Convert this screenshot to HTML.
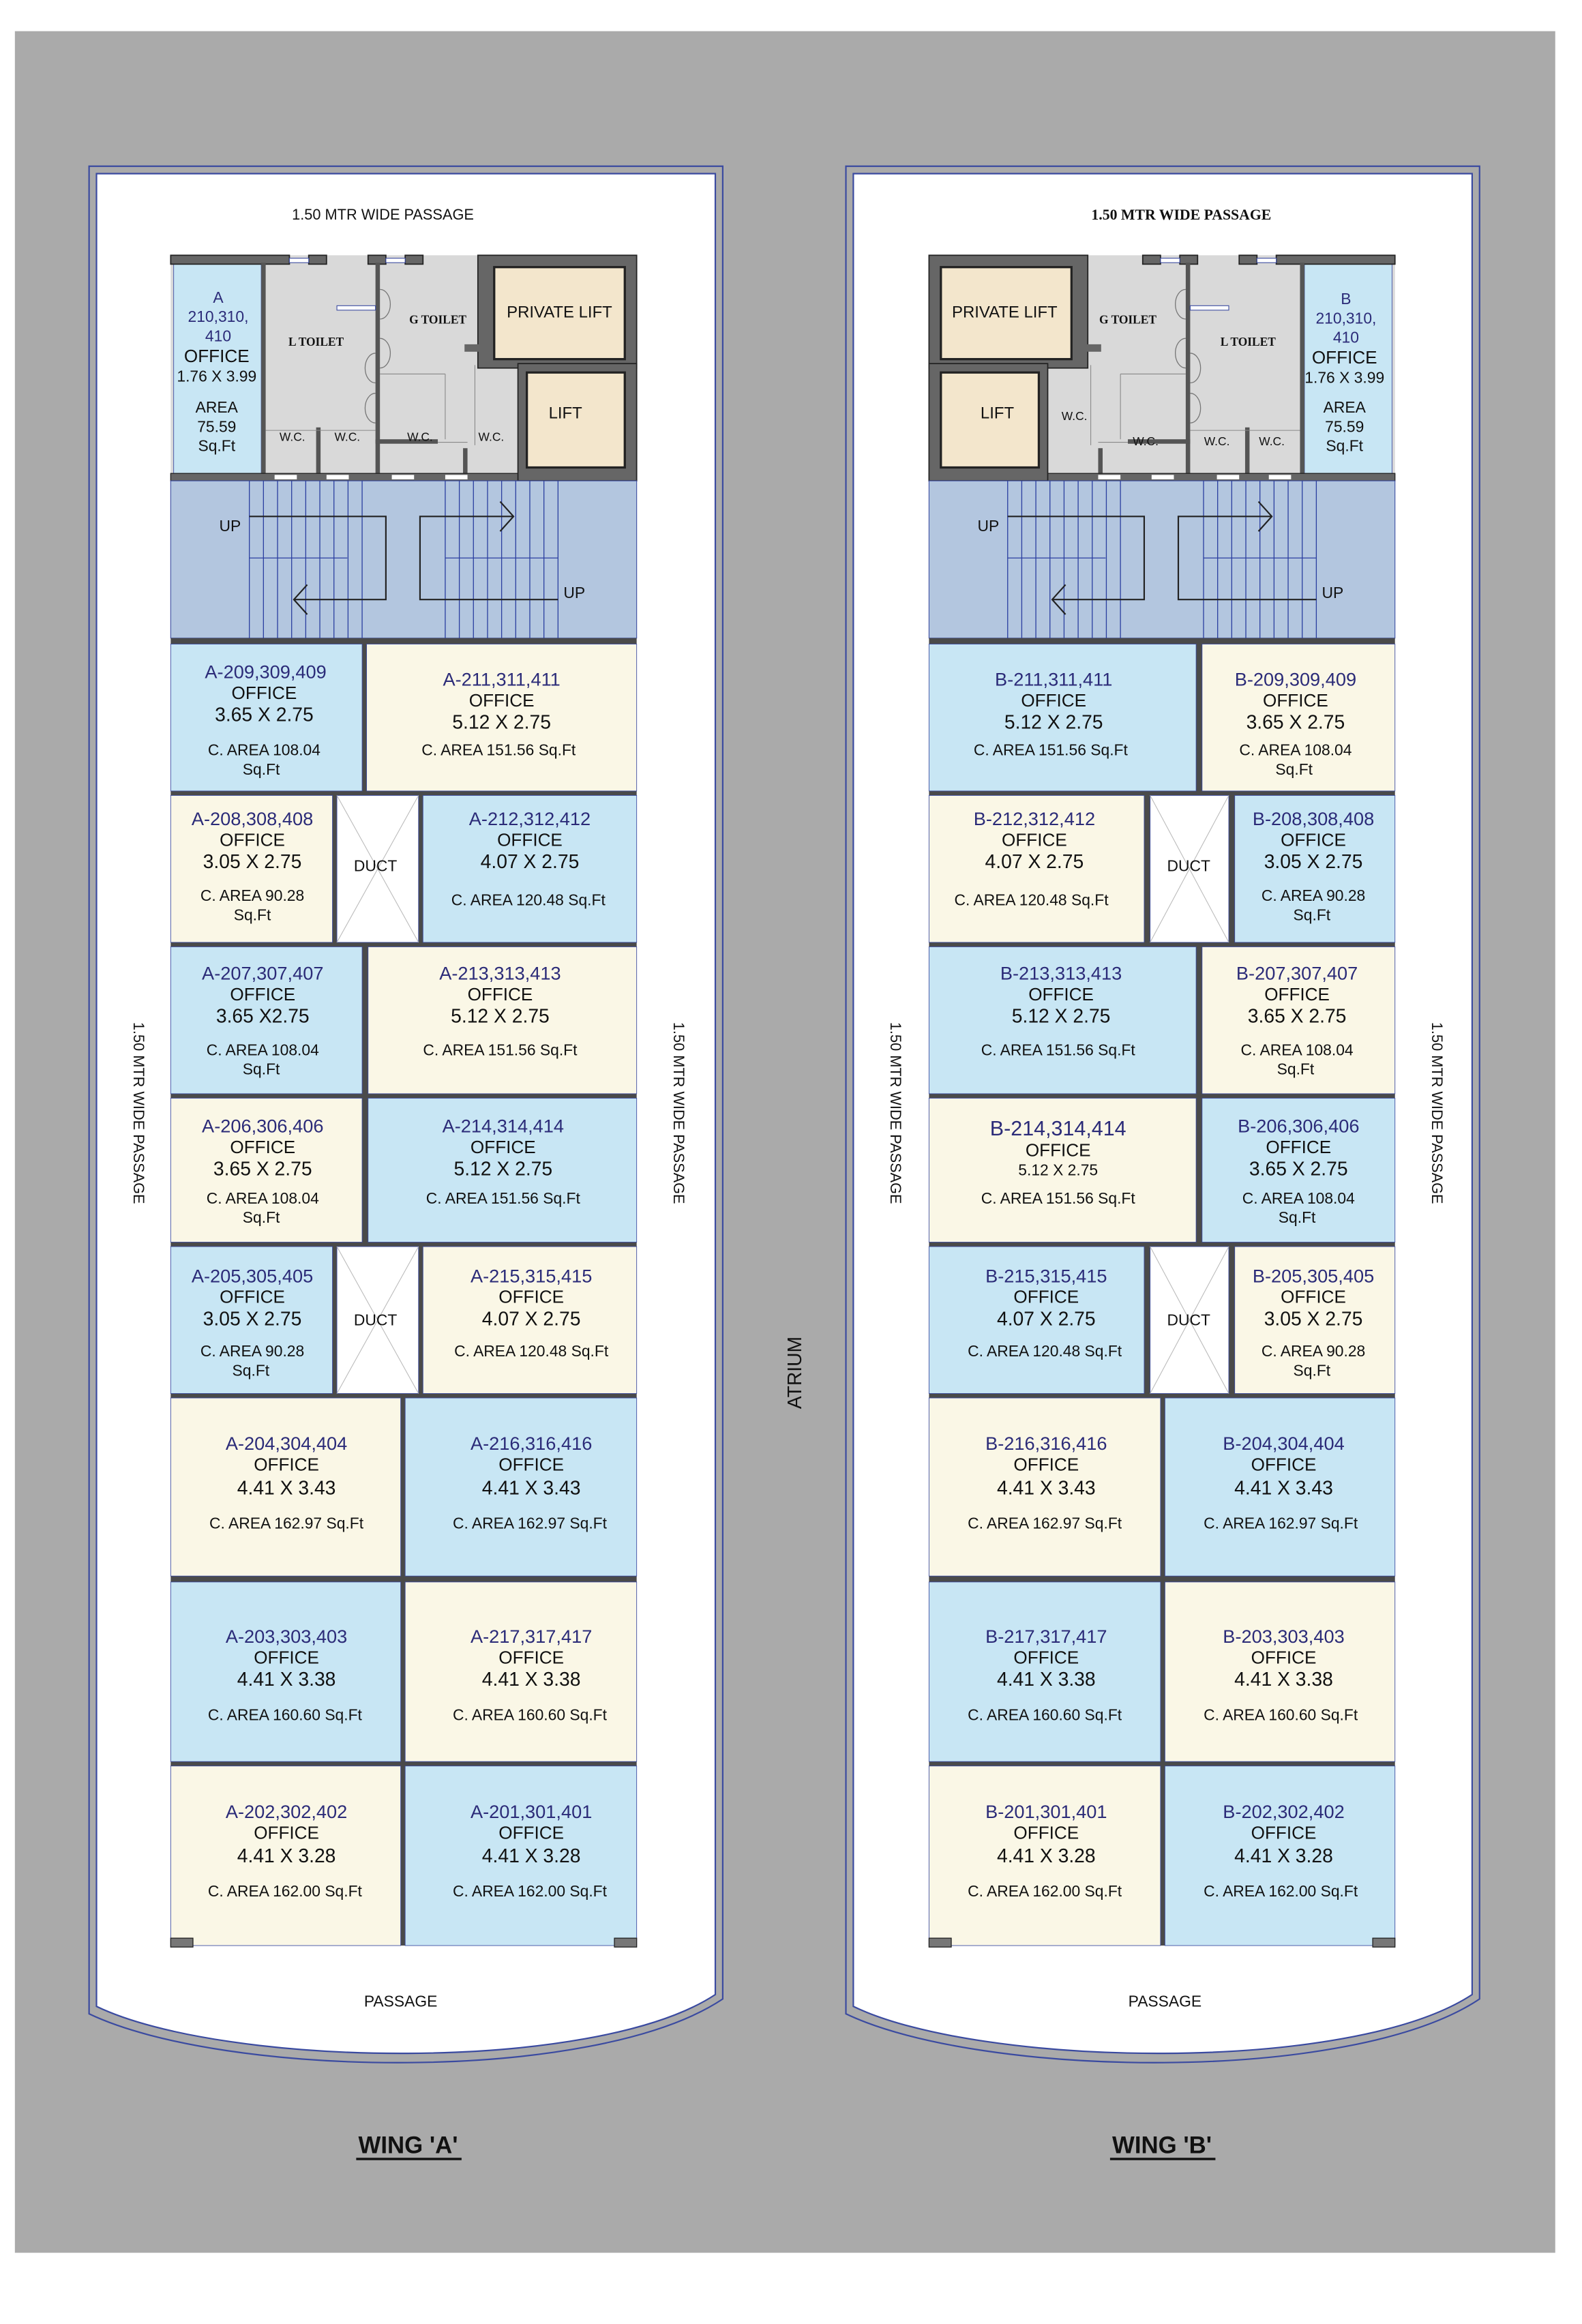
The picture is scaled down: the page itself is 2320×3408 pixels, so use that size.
<!DOCTYPE html>
<html><head><meta charset="utf-8"><style>
html,body{margin:0;padding:0;background:#fff;}
svg{display:block;}
text{font-family:"Liberation Sans",Arial,sans-serif;text-anchor:middle;}
.c{fill:#2b2b78;font-size:12.5px;}
.o{fill:#111;font-size:12px;}
.d{fill:#111;font-size:13px;}
.a{fill:#111;font-size:10.5px;}
.s{font-family:"Liberation Serif",serif;font-weight:bold;font-size:8px;fill:#111;}
</style></head><body>
<svg width="2320" height="3408" viewBox="0 0 1066 1566" xmlns="http://www.w3.org/2000/svg">
<rect x="0" y="0" width="1066" height="1566" fill="#fff"/>
<rect x="10" y="21" width="1038" height="1497" fill="#aaaaaa"/>

<g>
<path d="M60,112 H487 V1347 C400,1405 150,1400 60,1357 Z" fill="none" stroke="#3a4aa0" stroke-width="1"/>
<path d="M65,117 H482 V1344 C400,1398 150,1393 65,1352 Z" fill="#fff" stroke="#3a4aa0" stroke-width="1"/>
</g>
<g transform="translate(510,0)">
<path d="M60,112 H487 V1347 C400,1405 150,1400 60,1357 Z" fill="none" stroke="#3a4aa0" stroke-width="1"/>
<path d="M65,117 H482 V1344 C400,1398 150,1393 65,1352 Z" fill="#fff" stroke="#3a4aa0" stroke-width="1"/>
</g>

<text x="258" y="148" style="font-size:10px" fill="#111">1.50 MTR WIDE PASSAGE</text>
<text x="796" y="148" style="font-family:'Liberation Serif',serif;font-weight:bold;font-size:10px" fill="#111">1.50 MTR WIDE PASSAGE</text>
<text transform="translate(90,750) rotate(90)" style="font-size:10px" fill="#111">1.50 MTR WIDE PASSAGE</text>
<text transform="translate(454,750) rotate(90)" style="font-size:10px" fill="#111">1.50 MTR WIDE PASSAGE</text>
<text transform="translate(600,750) rotate(90)" style="font-size:10px" fill="#111">1.50 MTR WIDE PASSAGE</text>
<text transform="translate(965,750) rotate(90)" style="font-size:10px" fill="#111">1.50 MTR WIDE PASSAGE</text>
<text transform="translate(540,925) rotate(-90)" style="font-size:13px" fill="#111">ATRIUM</text>
<text x="270" y="1352" style="font-size:10.5px" fill="#111">PASSAGE</text>
<text x="785" y="1352" style="font-size:10.5px" fill="#111">PASSAGE</text>
<text x="275" y="1451" style="font-size:16px;font-weight:bold" fill="#111">WING 'A'</text>
<rect x="240" y="1454" width="71" height="1.6" fill="#111"/>
<text x="783" y="1451" style="font-size:16px;font-weight:bold" fill="#111">WING 'B'</text>
<rect x="748" y="1454" width="71" height="1.6" fill="#111"/>

<g id="coreA">
<rect x="115" y="172" width="236" height="152" fill="#d9d9d9"/>
<rect x="117" y="177" width="59" height="143" fill="#c8e6f4" stroke="#3a4aa0" stroke-width="0.4"/>
<rect x="115" y="172" width="80" height="6" fill="#666" stroke="#222" stroke-width="0.8"/>
<rect x="208" y="172" width="12" height="6" fill="#666" stroke="#222" stroke-width="0.8"/>
<rect x="248" y="172" width="12" height="6" fill="#666" stroke="#222" stroke-width="0.8"/>
<rect x="273" y="172" width="12" height="6" fill="#666" stroke="#222" stroke-width="0.8"/>
<rect x="195" y="174" width="13" height="3" fill="#fff" stroke="#3a4aa0" stroke-width="0.5"/>
<rect x="260" y="174" width="13" height="3" fill="#fff" stroke="#3a4aa0" stroke-width="0.5"/>
<rect x="176" y="177" width="3" height="145" fill="#555"/>
<rect x="253" y="177" width="3" height="145" fill="#555"/>
<rect x="213" y="288" width="3" height="34" fill="#555"/>
<rect x="253" y="296" width="42" height="3" fill="#555"/>
<rect x="312" y="302" width="3" height="20" fill="#555"/>
<line x1="179" y1="290" x2="253" y2="290" stroke="#888" stroke-width="0.5"/>
<line x1="256" y1="252" x2="300" y2="252" stroke="#888" stroke-width="0.5"/>
<line x1="300" y1="252" x2="300" y2="296" stroke="#888" stroke-width="0.5"/>
<line x1="295" y1="298" x2="315" y2="298" stroke="#888" stroke-width="0.5"/>
<line x1="320" y1="246" x2="320" y2="300" stroke="#888" stroke-width="0.5"/>
<path d="M256,195 a7,10 0 0 1 0,20 M256,228 a7,10 0 0 1 0,20 M253,238 a7,10 0 0 0 0,20 M253,265 a7,10 0 0 0 0,20" fill="none" stroke="#777" stroke-width="0.6"/>
<rect x="227" y="206" width="26" height="3" fill="#fff" stroke="#3a4aa0" stroke-width="0.5"/>
<rect x="115" y="319" width="314" height="5" fill="#666" stroke="#222" stroke-width="0.6"/>
<rect x="185" y="320" width="15" height="3" fill="#fff"/><rect x="220" y="320" width="15" height="3" fill="#fff"/>
<rect x="264" y="320" width="15" height="3" fill="#fff"/><rect x="300" y="320" width="15" height="3" fill="#fff"/>
<rect x="322" y="172" width="107" height="76" fill="#666" stroke="#222" stroke-width="0.8"/>
<rect x="349" y="245" width="80" height="79" fill="#666" stroke="#222" stroke-width="0.8"/>
<rect x="333" y="180" width="88" height="62" fill="#f3e6cc" stroke="#222" stroke-width="1.5"/>
<rect x="355" y="251" width="66" height="64" fill="#f3e6cc" stroke="#222" stroke-width="1.5"/>
<rect x="313" y="232" width="14" height="5" fill="#666"/>
</g>
<use href="#coreA" transform="translate(1055,0) scale(-1,1)"/>

<g>
<text x="147" y="204" class="c" style="font-size:10.5px">A</text>
<text x="147" y="217" class="c" style="font-size:10.5px">210,310,</text>
<text x="147" y="230" class="c" style="font-size:10.5px">410</text>
<text x="146" y="244" class="o">OFFICE</text>
<text x="146" y="257" class="a">1.76 X 3.99</text>
<text x="146" y="278" class="a">AREA</text>
<text x="146" y="291" class="a">75.59</text>
<text x="146" y="304" class="a">Sq.Ft</text>
<text x="213" y="233" class="s">L TOILET</text>
<text x="295" y="218" class="s">G TOILET</text>
<text x="197" y="297" style="font-size:8px" fill="#111">W.C.</text>
<text x="234" y="297" style="font-size:8px" fill="#111">W.C.</text>
<text x="283" y="297" style="font-size:8px" fill="#111">W.C.</text>
<text x="331" y="297" style="font-size:8px" fill="#111">W.C.</text>
<text x="377" y="214" style="font-size:11px" fill="#111">PRIVATE LIFT</text>
<text x="381" y="282" style="font-size:11px" fill="#111">LIFT</text>

<text x="907" y="205" class="c" style="font-size:10.5px">B</text>
<text x="907" y="218" class="c" style="font-size:10.5px">210,310,</text>
<text x="907" y="231" class="c" style="font-size:10.5px">410</text>
<text x="906" y="245" class="o">OFFICE</text>
<text x="906" y="258" class="a">1.76 X 3.99</text>
<text x="906" y="278" class="a">AREA</text>
<text x="906" y="291" class="a">75.59</text>
<text x="906" y="304" class="a">Sq.Ft</text>
<text x="841" y="233" class="s">L TOILET</text>
<text x="760" y="218" class="s">G TOILET</text>
<text x="724" y="283" style="font-size:8px" fill="#111">W.C.</text>
<text x="772" y="300" style="font-size:8px" fill="#111">W.C.</text>
<text x="820" y="300" style="font-size:8px" fill="#111">W.C.</text>
<text x="857" y="300" style="font-size:8px" fill="#111">W.C.</text>
<text x="677" y="214" style="font-size:11px" fill="#111">PRIVATE LIFT</text>
<text x="672" y="282" style="font-size:11px" fill="#111">LIFT</text>
</g>

<g id="stA">
<rect x="115" y="324" width="314" height="106" fill="#b3c6df" stroke="#3a4aa0" stroke-width="0.5"/>
<g stroke="#2b3fa0" stroke-width="0.6">
<line x1="168" y1="324" x2="168" y2="430"/><line x1="177.5" y1="324" x2="177.5" y2="430"/><line x1="187" y1="324" x2="187" y2="430"/><line x1="196.5" y1="324" x2="196.5" y2="430"/><line x1="206" y1="324" x2="206" y2="430"/><line x1="215.5" y1="324" x2="215.5" y2="430"/><line x1="225" y1="324" x2="225" y2="430"/><line x1="234.5" y1="324" x2="234.5" y2="430"/><line x1="244" y1="324" x2="244" y2="430"/>
<line x1="300" y1="324" x2="300" y2="430"/><line x1="309.5" y1="324" x2="309.5" y2="430"/><line x1="319" y1="324" x2="319" y2="430"/><line x1="328.5" y1="324" x2="328.5" y2="430"/><line x1="338" y1="324" x2="338" y2="430"/><line x1="347.5" y1="324" x2="347.5" y2="430"/><line x1="357" y1="324" x2="357" y2="430"/><line x1="366.5" y1="324" x2="366.5" y2="430"/><line x1="376" y1="324" x2="376" y2="430"/>
<line x1="168" y1="376" x2="234" y2="376"/><line x1="300" y1="376" x2="376" y2="376"/>
</g>
<path d="M168,348 H260 V404 H198 M207,394 L198,404 L207,414" fill="none" stroke="#222" stroke-width="1"/>
<path d="M376,404 H283 V348 H346 M337,338 L346,348 L337,358" fill="none" stroke="#222" stroke-width="1"/>
<text x="155" y="358" style="font-size:10.5px" fill="#111">UP</text>
<text x="387" y="403" style="font-size:10.5px" fill="#111">UP</text>
</g>
<use href="#stA" transform="translate(511,0)"/>

<rect x="115" y="430" width="314" height="883" fill="#4a4a4a"/>
<rect x="115" y="1311" width="314" height="4" fill="#fff"/>
<g stroke="#3a4aa0" stroke-width="0.4">
<rect x="115" y="434" width="129" height="99" fill="#c8e6f4"/>
<rect x="247" y="434" width="182" height="99" fill="#faf7e6"/>
<rect x="115" y="536" width="109" height="99" fill="#faf7e6"/>
<rect x="227" y="536" width="55" height="99" fill="#fff"/>
<rect x="285" y="536" width="144" height="99" fill="#c8e6f4"/>
<rect x="115" y="638" width="129" height="99" fill="#c8e6f4"/>
<rect x="248" y="638" width="181" height="99" fill="#faf7e6"/>
<rect x="115" y="740" width="129" height="97" fill="#faf7e6"/>
<rect x="248" y="740" width="181" height="97" fill="#c8e6f4"/>
<rect x="115" y="840" width="109" height="99" fill="#c8e6f4"/>
<rect x="227" y="840" width="55" height="99" fill="#fff"/>
<rect x="285" y="840" width="144" height="99" fill="#faf7e6"/>
<rect x="115" y="942" width="155" height="120" fill="#faf7e6"/>
<rect x="273" y="942" width="156" height="120" fill="#c8e6f4"/>
<rect x="115" y="1066" width="155" height="121" fill="#c8e6f4"/>
<rect x="273" y="1066" width="156" height="121" fill="#faf7e6"/>
<rect x="115" y="1190" width="155" height="121" fill="#faf7e6"/>
<rect x="273" y="1190" width="156" height="121" fill="#c8e6f4"/>
</g>
<rect x="115" y="1306" width="15" height="6" fill="#777" stroke="#222" stroke-width="0.6"/>
<rect x="414" y="1306" width="15" height="6" fill="#777" stroke="#222" stroke-width="0.6"/>
<g stroke="#bbb" stroke-width="0.5"><line x1="227" y1="536" x2="282" y2="635"/><line x1="282" y1="536" x2="227" y2="635"/><line x1="227" y1="840" x2="282" y2="939"/><line x1="282" y1="840" x2="227" y2="939"/></g>

<rect x="626" y="430" width="314" height="883" fill="#4a4a4a"/>
<rect x="626" y="1311" width="314" height="4" fill="#fff"/>
<g stroke="#3a4aa0" stroke-width="0.4">
<rect x="626" y="434" width="180" height="99" fill="#c8e6f4"/>
<rect x="810" y="434" width="130" height="99" fill="#faf7e6"/>
<rect x="626" y="536" width="145" height="99" fill="#faf7e6"/>
<rect x="775" y="536" width="53" height="99" fill="#fff"/>
<rect x="832" y="536" width="108" height="99" fill="#c8e6f4"/>
<rect x="626" y="638" width="180" height="99" fill="#c8e6f4"/>
<rect x="810" y="638" width="130" height="99" fill="#faf7e6"/>
<rect x="626" y="740" width="180" height="97" fill="#faf7e6"/>
<rect x="810" y="740" width="130" height="97" fill="#c8e6f4"/>
<rect x="626" y="840" width="145" height="99" fill="#c8e6f4"/>
<rect x="775" y="840" width="53" height="99" fill="#fff"/>
<rect x="832" y="840" width="108" height="99" fill="#faf7e6"/>
<rect x="626" y="942" width="156" height="120" fill="#faf7e6"/>
<rect x="785" y="942" width="155" height="120" fill="#c8e6f4"/>
<rect x="626" y="1066" width="156" height="121" fill="#c8e6f4"/>
<rect x="785" y="1066" width="155" height="121" fill="#faf7e6"/>
<rect x="626" y="1190" width="156" height="121" fill="#faf7e6"/>
<rect x="785" y="1190" width="155" height="121" fill="#c8e6f4"/>
</g>
<rect x="626" y="1306" width="15" height="6" fill="#777" stroke="#222" stroke-width="0.6"/>
<rect x="925" y="1306" width="15" height="6" fill="#777" stroke="#222" stroke-width="0.6"/>
<g stroke="#bbb" stroke-width="0.5"><line x1="775" y1="536" x2="828" y2="635"/><line x1="828" y1="536" x2="775" y2="635"/><line x1="775" y1="840" x2="828" y2="939"/><line x1="828" y1="840" x2="775" y2="939"/></g>

<g>
<text x="179" y="457" class="c">A-209,309,409</text><text x="178" y="471" class="o">OFFICE</text><text x="178" y="486" class="d">3.65 X 2.75</text><text x="178" y="509" class="a">C. AREA 108.04</text><text x="176" y="522" class="a">Sq.Ft</text>
<text x="338" y="462" class="c">A-211,311,411</text><text x="338" y="476" class="o">OFFICE</text><text x="338" y="491" class="d">5.12 X 2.75</text><text x="336" y="509" class="a">C. AREA 151.56 Sq.Ft</text>
<text x="170" y="556" class="c">A-208,308,408</text><text x="170" y="570" class="o">OFFICE</text><text x="170" y="585" class="d">3.05 X 2.75</text><text x="170" y="607" class="a">C. AREA 90.28</text><text x="170" y="620" class="a">Sq.Ft</text>
<text x="253" y="587" class="a">DUCT</text>
<text x="357" y="556" class="c">A-212,312,412</text><text x="357" y="570" class="o">OFFICE</text><text x="357" y="585" class="d">4.07 X 2.75</text><text x="356" y="610" class="a">C. AREA 120.48 Sq.Ft</text>
<text x="177" y="660" class="c">A-207,307,407</text><text x="177" y="674" class="o">OFFICE</text><text x="177" y="689" class="d">3.65 X2.75</text><text x="177" y="711" class="a">C. AREA 108.04</text><text x="176" y="724" class="a">Sq.Ft</text>
<text x="337" y="660" class="c">A-213,313,413</text><text x="337" y="674" class="o">OFFICE</text><text x="337" y="689" class="d">5.12 X 2.75</text><text x="337" y="711" class="a">C. AREA 151.56 Sq.Ft</text>
<text x="177" y="763" class="c">A-206,306,406</text><text x="177" y="777" class="o">OFFICE</text><text x="177" y="792" class="d">3.65 X 2.75</text><text x="177" y="811" class="a">C. AREA 108.04</text><text x="176" y="824" class="a">Sq.Ft</text>
<text x="339" y="763" class="c">A-214,314,414</text><text x="339" y="777" class="o">OFFICE</text><text x="339" y="792" class="d">5.12 X 2.75</text><text x="339" y="811" class="a">C. AREA 151.56 Sq.Ft</text>
<text x="170" y="864" class="c">A-205,305,405</text><text x="170" y="878" class="o">OFFICE</text><text x="170" y="893" class="d">3.05 X 2.75</text><text x="170" y="914" class="a">C. AREA 90.28</text><text x="169" y="927" class="a">Sq.Ft</text>
<text x="253" y="893" class="a">DUCT</text>
<text x="358" y="864" class="c">A-215,315,415</text><text x="358" y="878" class="o">OFFICE</text><text x="358" y="893" class="d">4.07 X 2.75</text><text x="358" y="914" class="a">C. AREA 120.48 Sq.Ft</text>
<text x="193" y="977" class="c">A-204,304,404</text><text x="193" y="991" class="o">OFFICE</text><text x="193" y="1007" class="d">4.41 X 3.43</text><text x="193" y="1030" class="a">C. AREA 162.97 Sq.Ft</text>
<text x="358" y="977" class="c">A-216,316,416</text><text x="358" y="991" class="o">OFFICE</text><text x="358" y="1007" class="d">4.41 X 3.43</text><text x="357" y="1030" class="a">C. AREA 162.97 Sq.Ft</text>
<text x="193" y="1107" class="c">A-203,303,403</text><text x="193" y="1121" class="o">OFFICE</text><text x="193" y="1136" class="d">4.41 X 3.38</text><text x="192" y="1159" class="a">C. AREA 160.60 Sq.Ft</text>
<text x="358" y="1107" class="c">A-217,317,417</text><text x="358" y="1121" class="o">OFFICE</text><text x="358" y="1136" class="d">4.41 X 3.38</text><text x="357" y="1159" class="a">C. AREA 160.60 Sq.Ft</text>
<text x="193" y="1225" class="c">A-202,302,402</text><text x="193" y="1239" class="o">OFFICE</text><text x="193" y="1255" class="d">4.41 X 3.28</text><text x="192" y="1278" class="a">C. AREA 162.00 Sq.Ft</text>
<text x="358" y="1225" class="c">A-201,301,401</text><text x="358" y="1239" class="o">OFFICE</text><text x="358" y="1255" class="d">4.41 X 3.28</text><text x="357" y="1278" class="a">C. AREA 162.00 Sq.Ft</text>
</g>

<g>
<text x="710" y="462" class="c">B-211,311,411</text><text x="710" y="476" class="o">OFFICE</text><text x="710" y="491" class="d">5.12 X 2.75</text><text x="708" y="509" class="a">C. AREA 151.56 Sq.Ft</text>
<text x="873" y="462" class="c">B-209,309,409</text><text x="873" y="476" class="o">OFFICE</text><text x="873" y="491" class="d">3.65 X 2.75</text><text x="873" y="509" class="a">C. AREA 108.04</text><text x="872" y="522" class="a">Sq.Ft</text>
<text x="697" y="556" class="c">B-212,312,412</text><text x="697" y="570" class="o">OFFICE</text><text x="697" y="585" class="d">4.07 X 2.75</text><text x="695" y="610" class="a">C. AREA 120.48 Sq.Ft</text>
<text x="801" y="587" class="a">DUCT</text>
<text x="885" y="556" class="c">B-208,308,408</text><text x="885" y="570" class="o">OFFICE</text><text x="885" y="585" class="d">3.05 X 2.75</text><text x="885" y="607" class="a">C. AREA 90.28</text><text x="884" y="620" class="a">Sq.Ft</text>
<text x="715" y="660" class="c">B-213,313,413</text><text x="715" y="674" class="o">OFFICE</text><text x="715" y="689" class="d">5.12 X 2.75</text><text x="713" y="711" class="a">C. AREA 151.56 Sq.Ft</text>
<text x="874" y="660" class="c">B-207,307,407</text><text x="874" y="674" class="o">OFFICE</text><text x="874" y="689" class="d">3.65 X 2.75</text><text x="874" y="711" class="a">C. AREA 108.04</text><text x="873" y="724" class="a">Sq.Ft</text>
<text x="713" y="765" class="c" style="font-size:14px">B-214,314,414</text><text x="713" y="779" class="o">OFFICE</text><text x="713" y="792" class="a">5.12 X 2.75</text><text x="713" y="811" class="a">C. AREA 151.56 Sq.Ft</text>
<text x="875" y="763" class="c">B-206,306,406</text><text x="875" y="777" class="o">OFFICE</text><text x="875" y="792" class="d">3.65 X 2.75</text><text x="875" y="811" class="a">C. AREA 108.04</text><text x="874" y="824" class="a">Sq.Ft</text>
<text x="705" y="864" class="c">B-215,315,415</text><text x="705" y="878" class="o">OFFICE</text><text x="705" y="893" class="d">4.07 X 2.75</text><text x="704" y="914" class="a">C. AREA 120.48 Sq.Ft</text>
<text x="801" y="893" class="a">DUCT</text>
<text x="885" y="864" class="c">B-205,305,405</text><text x="885" y="878" class="o">OFFICE</text><text x="885" y="893" class="d">3.05 X 2.75</text><text x="885" y="914" class="a">C. AREA 90.28</text><text x="884" y="927" class="a">Sq.Ft</text>
<text x="705" y="977" class="c">B-216,316,416</text><text x="705" y="991" class="o">OFFICE</text><text x="705" y="1007" class="d">4.41 X 3.43</text><text x="704" y="1030" class="a">C. AREA 162.97 Sq.Ft</text>
<text x="865" y="977" class="c">B-204,304,404</text><text x="865" y="991" class="o">OFFICE</text><text x="865" y="1007" class="d">4.41 X 3.43</text><text x="863" y="1030" class="a">C. AREA 162.97 Sq.Ft</text>
<text x="705" y="1107" class="c">B-217,317,417</text><text x="705" y="1121" class="o">OFFICE</text><text x="705" y="1136" class="d">4.41 X 3.38</text><text x="704" y="1159" class="a">C. AREA 160.60 Sq.Ft</text>
<text x="865" y="1107" class="c">B-203,303,403</text><text x="865" y="1121" class="o">OFFICE</text><text x="865" y="1136" class="d">4.41 X 3.38</text><text x="863" y="1159" class="a">C. AREA 160.60 Sq.Ft</text>
<text x="705" y="1225" class="c">B-201,301,401</text><text x="705" y="1239" class="o">OFFICE</text><text x="705" y="1255" class="d">4.41 X 3.28</text><text x="704" y="1278" class="a">C. AREA 162.00 Sq.Ft</text>
<text x="865" y="1225" class="c">B-202,302,402</text><text x="865" y="1239" class="o">OFFICE</text><text x="865" y="1255" class="d">4.41 X 3.28</text><text x="863" y="1278" class="a">C. AREA 162.00 Sq.Ft</text>
</g>
</svg>
</body></html>
